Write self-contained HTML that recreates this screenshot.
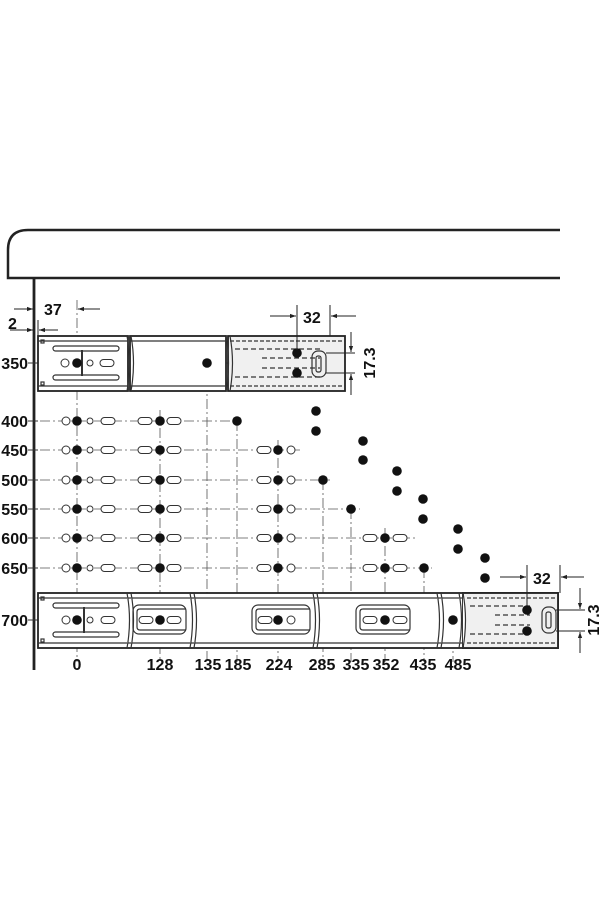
<!DOCTYPE html>
<html><head><meta charset="utf-8"><style>html,body{margin:0;padding:0;background:#fff}svg{display:block}</style></head><body>
<svg width="600" height="900" viewBox="0 0 600 900" xmlns="http://www.w3.org/2000/svg" font-family="Liberation Sans, sans-serif" font-weight="bold">
<defs>
<marker id="ar" viewBox="0 0 10 10" refX="10" refY="5" markerWidth="8" markerHeight="6" orient="auto-start-reverse"><path d="M0,1.5 L10,5 L0,8.5 z" fill="#222"/></marker>
<g id="slot"><rect x="-7" y="-3.5" width="14" height="7" rx="3.5" fill="#fff" stroke="#333" stroke-width="1"/></g>
<g id="oc"><circle r="4" fill="#fff" stroke="#333" stroke-width="1"/></g>
<g id="sc"><circle r="3" fill="#fff" stroke="#333" stroke-width="1"/></g>
<g id="fd"><circle r="4.8" fill="#111"/></g>
</defs>
<path d="M560,230 H28 Q8,230 8,250 V278 H560" fill="none" stroke="#222" stroke-width="2.5"/>
<line x1="34" y1="278" x2="34" y2="670" stroke="#222" stroke-width="2.8"/>

<g stroke="#555" stroke-width="0.8" stroke-dasharray="10,3,2,3" fill="none">
<line x1="40" y1="363" x2="310" y2="363"/>
<line x1="40" y1="421" x2="240" y2="421"/>
<line x1="40" y1="450" x2="300" y2="450"/>
<line x1="40" y1="480" x2="330" y2="480"/>
<line x1="40" y1="509" x2="360" y2="509"/>
<line x1="40" y1="538" x2="415" y2="538"/>
<line x1="40" y1="568" x2="432" y2="568"/>
<line x1="40" y1="620" x2="520" y2="620"/>
<line x1="77" y1="300" x2="77" y2="662"/>
<line x1="160" y1="410" x2="160" y2="662"/>
<line x1="207" y1="363" x2="207" y2="662"/>
<line x1="237" y1="421" x2="237" y2="662"/>
<line x1="278" y1="440" x2="278" y2="662"/>
<line x1="323" y1="480" x2="323" y2="662"/>
<line x1="351" y1="509" x2="351" y2="662"/>
<line x1="385" y1="528" x2="385" y2="662"/>
<line x1="424" y1="568" x2="424" y2="662"/>
<line x1="453" y1="620" x2="453" y2="662"/>
</g>
<g stroke="#333" stroke-width="1">
<line x1="28" y1="363" x2="38" y2="363"/><line x1="28" y1="421" x2="38" y2="421"/><line x1="28" y1="450" x2="38" y2="450"/><line x1="28" y1="480" x2="38" y2="480"/><line x1="28" y1="509" x2="38" y2="509"/><line x1="28" y1="538" x2="38" y2="538"/><line x1="28" y1="568" x2="38" y2="568"/><line x1="28" y1="620" x2="38" y2="620"/>
</g>

<g fill="#fff" stroke="#222" stroke-width="1.8">
<rect x="38" y="336" width="90" height="55"/>
<rect x="130" y="336" width="96" height="55"/>
<rect x="228" y="336" width="117" height="55" fill="#f0f0f0"/>
</g>
<g stroke="#333" stroke-width="1.2" fill="none">
<line x1="38" y1="341" x2="128" y2="341"/><line x1="38" y1="386" x2="128" y2="386"/>
<line x1="130" y1="341" x2="226" y2="341"/><line x1="130" y1="386" x2="226" y2="386"/>
<path d="M127,336 q5,27 0,55 M131,336 q5,27 0,55 M226,336 q5,27 0,55 M230,336 q5,27 0,55" stroke="#333"/>
<line x1="230" y1="341" x2="345" y2="341" stroke-dasharray="4,2"/><line x1="230" y1="386" x2="345" y2="386" stroke-dasharray="4,2"/>
<line x1="235" y1="349" x2="320" y2="349" stroke-dasharray="5,3"/><line x1="235" y1="377" x2="320" y2="377" stroke-dasharray="5,3"/>
<line x1="262" y1="358" x2="320" y2="358" stroke-dasharray="5,3"/><line x1="262" y1="368" x2="320" y2="368" stroke-dasharray="5,3"/>
<rect x="53" y="346" width="66" height="5" rx="2.5"/><rect x="53" y="375" width="66" height="5" rx="2.5"/>
<line x1="82" y1="350" x2="82" y2="376" stroke-width="2"/>
<rect x="41" y="340" width="3" height="3"/><rect x="41" y="382" width="3" height="3"/>
<rect x="312" y="351" width="14" height="26" rx="6"/><rect x="316" y="356" width="5" height="16" rx="2"/>
</g>
<use href="#oc" x="65" y="363"/><use href="#fd" x="77" y="363"/><use href="#sc" x="90" y="363"/><use href="#slot" x="107" y="363"/>
<use href="#fd" x="207" y="363"/><use href="#fd" x="297" y="353"/><use href="#fd" x="297" y="373"/>

<g>
<use href="#oc" x="66" y="421"/><use href="#fd" x="77" y="421"/><use href="#sc" x="90" y="421"/><use href="#slot" x="108" y="421"/><use href="#slot" x="145" y="421"/><use href="#fd" x="160" y="421"/><use href="#slot" x="174" y="421"/><use href="#fd" x="237" y="421"/>
<use href="#oc" x="66" y="450"/><use href="#fd" x="77" y="450"/><use href="#sc" x="90" y="450"/><use href="#slot" x="108" y="450"/><use href="#slot" x="145" y="450"/><use href="#fd" x="160" y="450"/><use href="#slot" x="174" y="450"/><use href="#slot" x="264" y="450"/><use href="#fd" x="278" y="450"/><use href="#oc" x="291" y="450"/>
<use href="#oc" x="66" y="480"/><use href="#fd" x="77" y="480"/><use href="#sc" x="90" y="480"/><use href="#slot" x="108" y="480"/><use href="#slot" x="145" y="480"/><use href="#fd" x="160" y="480"/><use href="#slot" x="174" y="480"/><use href="#slot" x="264" y="480"/><use href="#fd" x="278" y="480"/><use href="#oc" x="291" y="480"/><use href="#fd" x="323" y="480"/>
<use href="#oc" x="66" y="509"/><use href="#fd" x="77" y="509"/><use href="#sc" x="90" y="509"/><use href="#slot" x="108" y="509"/><use href="#slot" x="145" y="509"/><use href="#fd" x="160" y="509"/><use href="#slot" x="174" y="509"/><use href="#slot" x="264" y="509"/><use href="#fd" x="278" y="509"/><use href="#oc" x="291" y="509"/><use href="#fd" x="351" y="509"/>
<use href="#oc" x="66" y="538"/><use href="#fd" x="77" y="538"/><use href="#sc" x="90" y="538"/><use href="#slot" x="108" y="538"/><use href="#slot" x="145" y="538"/><use href="#fd" x="160" y="538"/><use href="#slot" x="174" y="538"/><use href="#slot" x="264" y="538"/><use href="#fd" x="278" y="538"/><use href="#oc" x="291" y="538"/><use href="#slot" x="370" y="538"/><use href="#fd" x="385" y="538"/><use href="#slot" x="400" y="538"/>
<use href="#oc" x="66" y="568"/><use href="#fd" x="77" y="568"/><use href="#sc" x="90" y="568"/><use href="#slot" x="108" y="568"/><use href="#slot" x="145" y="568"/><use href="#fd" x="160" y="568"/><use href="#slot" x="174" y="568"/><use href="#slot" x="264" y="568"/><use href="#fd" x="278" y="568"/><use href="#oc" x="291" y="568"/><use href="#slot" x="370" y="568"/><use href="#fd" x="385" y="568"/><use href="#slot" x="400" y="568"/><use href="#fd" x="424" y="568"/>
</g>
<use href="#fd" x="316" y="411"/><use href="#fd" x="316" y="431"/><use href="#fd" x="363" y="441"/><use href="#fd" x="363" y="460"/><use href="#fd" x="397" y="471"/><use href="#fd" x="397" y="491"/><use href="#fd" x="423" y="499"/><use href="#fd" x="423" y="519"/><use href="#fd" x="458" y="529"/><use href="#fd" x="458" y="549"/><use href="#fd" x="485" y="558"/><use href="#fd" x="485" y="578"/>

<g fill="#fff" stroke="#222" stroke-width="1.8">
<rect x="38" y="593" width="520" height="55"/>
<rect x="463" y="593" width="95" height="55" fill="#f0f0f0"/>
</g>
<g stroke="#333" stroke-width="1.2" fill="none">
<line x1="38" y1="598" x2="463" y2="598"/><line x1="38" y1="643" x2="463" y2="643"/>
<path d="M127,593 q5,27 0,55 M131,593 q5,27 0,55 M190,593 q5,27 0,55 M194,593 q5,27 0,55 M313,593 q5,27 0,55 M317,593 q5,27 0,55 M437,593 q5,27 0,55 M441,593 q5,27 0,55 M459,593 q5,27 0,55 M463,593 q5,27 0,55" stroke="#333" fill="#fff"/>
<rect x="53" y="603" width="66" height="5" rx="2.5"/><rect x="53" y="632" width="66" height="5" rx="2.5"/>
<line x1="84" y1="607" x2="84" y2="633" stroke-width="2"/>
<rect x="41" y="597" width="3" height="3"/><rect x="41" y="639" width="3" height="3"/>
<rect x="133" y="605" width="53" height="29" rx="6"/><path d="M186,609 H140 Q137,609 137,612 V627 Q137,630 140,630 H186"/>
<rect x="252" y="605" width="58" height="29" rx="6"/><path d="M310,609 H259 Q256,609 256,612 V627 Q256,630 259,630 H310"/>
<rect x="356" y="605" width="54" height="29" rx="6"/><path d="M410,609 H363 Q360,609 360,612 V627 Q360,630 363,630 H410"/>
<line x1="467" y1="598" x2="558" y2="598" stroke-dasharray="4,2"/><line x1="467" y1="643" x2="558" y2="643" stroke-dasharray="4,2"/>
<line x1="470" y1="606" x2="530" y2="606" stroke-dasharray="5,3"/><line x1="470" y1="634" x2="530" y2="634" stroke-dasharray="5,3"/>
<line x1="495" y1="615" x2="530" y2="615" stroke-dasharray="5,3"/><line x1="495" y1="625" x2="530" y2="625" stroke-dasharray="5,3"/>
<rect x="542" y="607" width="14" height="26" rx="6"/><rect x="546" y="612" width="5" height="16" rx="2"/>
</g>
<use href="#oc" x="66" y="620"/><use href="#fd" x="77" y="620"/><use href="#sc" x="90" y="620"/><use href="#slot" x="108" y="620"/>
<use href="#slot" x="146" y="620"/><use href="#fd" x="160" y="620"/><use href="#slot" x="174" y="620"/>
<use href="#slot" x="265" y="620"/><use href="#fd" x="278" y="620"/><use href="#oc" x="291" y="620"/>
<use href="#slot" x="370" y="620"/><use href="#fd" x="385" y="620"/><use href="#slot" x="400" y="620"/>
<use href="#fd" x="453" y="620"/><use href="#fd" x="527" y="610"/><use href="#fd" x="527" y="631"/>

<g stroke="#222" stroke-width="1" fill="none">
<line x1="14" y1="309" x2="33" y2="309" marker-end="url(#ar)"/>
<line x1="10" y1="330" x2="33" y2="330" marker-end="url(#ar)"/>
<line x1="58" y1="330" x2="39" y2="330" marker-end="url(#ar)"/>
<line x1="38" y1="320" x2="38" y2="336"/>
<line x1="100" y1="309" x2="78" y2="309" marker-end="url(#ar)"/>
<line x1="297" y1="305" x2="297" y2="350"/><line x1="330" y1="305" x2="330" y2="336"/>
<line x1="270" y1="316" x2="296" y2="316" marker-end="url(#ar)"/>
<line x1="356" y1="316" x2="331" y2="316" marker-end="url(#ar)"/>
<line x1="326" y1="353" x2="355" y2="353"/><line x1="326" y1="373" x2="355" y2="373"/>
<line x1="351" y1="332" x2="351" y2="352" marker-end="url(#ar)"/>
<line x1="351" y1="395" x2="351" y2="374" marker-end="url(#ar)"/>
<line x1="527" y1="565" x2="527" y2="606"/><line x1="560" y1="565" x2="560" y2="593"/>
<line x1="500" y1="577" x2="526" y2="577" marker-end="url(#ar)"/>
<line x1="584" y1="577" x2="561" y2="577" marker-end="url(#ar)"/>
<line x1="556" y1="610" x2="585" y2="610"/><line x1="556" y1="631" x2="585" y2="631"/>
<line x1="580" y1="588" x2="580" y2="609" marker-end="url(#ar)"/>
<line x1="580" y1="653" x2="580" y2="632" marker-end="url(#ar)"/>
</g>

<g font-size="16" fill="#111">
<text x="8" y="329">2</text>
<text x="44" y="315">37</text>
<text x="303" y="323">32</text>
<text x="533" y="584">32</text>
<text transform="translate(375,363) rotate(-90)" text-anchor="middle">17.3</text>
<text transform="translate(599,620) rotate(-90)" text-anchor="middle">17.3</text>
<g text-anchor="end">
<text x="28" y="369">350</text><text x="28" y="427">400</text><text x="28" y="456">450</text><text x="28" y="486">500</text><text x="28" y="515">550</text><text x="28" y="544">600</text><text x="28" y="574">650</text><text x="28" y="626">700</text>
</g>
<g text-anchor="middle">
<text x="77" y="670">0</text><text x="160" y="670">128</text><text x="208" y="670">135</text><text x="238" y="670">185</text><text x="279" y="670">224</text><text x="322" y="670">285</text><text x="356" y="670">335</text><text x="386" y="670">352</text><text x="423" y="670">435</text><text x="458" y="670">485</text>
</g>
</g>
</svg>
</body></html>
